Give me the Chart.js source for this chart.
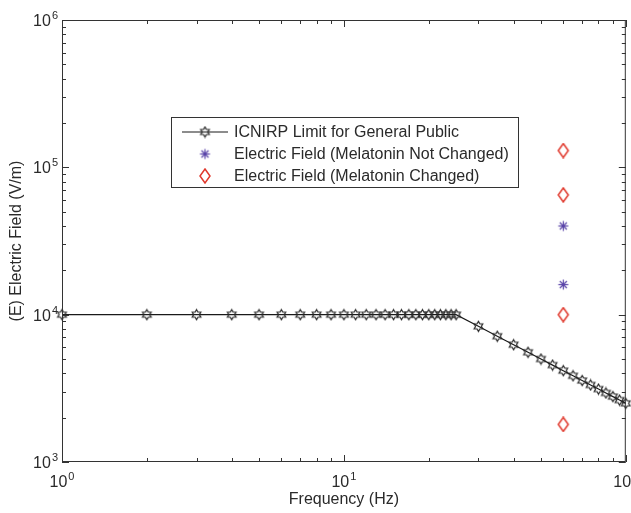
<!DOCTYPE html>
<html>
<head>
<meta charset="utf-8">
<script src="https://cdn.jsdelivr.net/npm/chart.js@4.4.0/dist/chart.umd.min.js"></script>
<style>
  html, body { margin: 0; padding: 0; background: #fff; }
  #wrap { width: 631px; height: 513px; }
</style>
</head>
<body>
<div id="wrap"><canvas id="fieldChart" width="631" height="513"></canvas></div>
<script>
// ICNIRP limit curve (frequency in Hz, field in V/m)
const limitFreq = [1, 2, 3, 4, 5, 6, 7, 8, 9, 10, 11, 12, 13, 14, 15, 16, 17, 18, 19, 20, 21, 22, 23, 24, 25,
    30, 35, 40, 45, 50, 55, 60, 65, 70, 75, 80, 85, 90, 95, 100];
const limitField = [10000, 10000, 10000, 10000, 10000, 10000, 10000, 10000, 10000, 10000, 10000, 10000, 10000,
    10000, 10000, 10000, 10000, 10000, 10000, 10000, 10000, 10000, 10000, 10000, 10000,
    8333, 7143, 6250, 5556, 5000, 4545, 4167, 3846, 3571, 3333, 3125, 2941, 2778, 2632, 2500];

// experiments at 60 Hz
const notChangedFreq = [60, 60];
const notChangedField = [40000, 16000];
const changedFreq = [60, 60, 60, 60];
const changedField = [130000, 65000, 10000, 1800];

const seriesLabels = [
    'ICNIRP Limit for General Public',
    'Electric Field (Melatonin Not Changed)',
    'Electric Field (Melatonin Changed)'
];

const xMajorTicks = [1, 10, 100];
const xMajorExp = ['0', '1', '2'];
const yMajorTicks = [1000, 10000, 100000, 1000000];
const yMajorExp = ['3', '4', '5', '6'];

const FONT = '"Liberation Sans", Arial, Helvetica, sans-serif';
const INK = '#2a2a2a';

function toPoints(xs, ys) {
    return xs.map((x, i) => ({ x: x, y: ys[i] }));
}

// marker images, MATLAB-like
function makeMarker(kind) {
    const c = document.createElement('canvas');
    const size = kind === 'diamond' ? 16 : 13;
    c.width = size;
    c.height = size;
    const g = c.getContext('2d');
    const cx = size / 2, cy = size / 2;
    g.lineWidth = 1.2;
    if (kind === 'hexagram') {
        g.strokeStyle = '#262626';
        const r = 5;
        g.beginPath();
        for (let k = 0; k < 12; k++) {
            const a = -Math.PI / 2 + k * Math.PI / 6;
            const rr = k % 2 === 0 ? r : r * 0.58;
            const px = cx + rr * Math.cos(a), py = cy + rr * Math.sin(a);
            if (k === 0) g.moveTo(px, py); else g.lineTo(px, py);
        }
        g.closePath();
        g.stroke();
    } else if (kind === 'asterisk') {
        g.strokeStyle = '#5a45a8';
        const r = 5;
        for (let k = 0; k < 4; k++) {
            const a = k * Math.PI / 4;
            g.beginPath();
            g.moveTo(cx - r * Math.cos(a), cy - r * Math.sin(a));
            g.lineTo(cx + r * Math.cos(a), cy + r * Math.sin(a));
            g.stroke();
        }
    } else {
        g.strokeStyle = '#e0382c';
        g.lineWidth = 1.5;
        g.beginPath();
        g.moveTo(cx, cy - 7);
        g.lineTo(cx + 5, cy);
        g.lineTo(cx, cy + 7);
        g.lineTo(cx - 5, cy);
        g.closePath();
        g.stroke();
    }
    return c;
}

const hexMarker = makeMarker('hexagram');
const starMarker = makeMarker('asterisk');
const diamondMarker = makeMarker('diamond');

function drawPower(ctx, exp, x, y, align) {
    ctx.font = '16px ' + FONT;
    const wBase = ctx.measureText('10').width;
    ctx.font = '11px ' + FONT;
    const wExp = ctx.measureText(exp).width;
    const total = wBase + wExp + 1;
    let start = x;
    if (align === 'center') start = x - total / 2;
    if (align === 'right') start = x - total;
    ctx.fillStyle = INK;
    ctx.textAlign = 'left';
    ctx.textBaseline = 'alphabetic';
    ctx.font = '16px ' + FONT;
    ctx.fillText('10', start, y);
    ctx.font = '11px ' + FONT;
    ctx.fillText(exp, start + wBase + 1, y - 7);
}

const framePlugin = {
    id: 'frame',
    afterDraw(chart) {
        const { ctx, chartArea: a, scales } = chart;
        const xs = scales.x, ys = scales.y;
        ctx.save();
        ctx.strokeStyle = '#333';
        ctx.lineWidth = 1;
        ctx.strokeRect(a.left + 0.5, a.top + 0.5, a.right - a.left - 1, a.bottom - a.top - 1);

        ctx.beginPath();
        // x ticks, bottom and top, pointing inward
        for (let d = 0; d < xMajorTicks.length; d++) {
            for (let m = 1; m <= 9; m++) {
                const v = xMajorTicks[d] * m;
                if (v > xMajorTicks[xMajorTicks.length - 1]) break;
                const px = Math.round(xs.getPixelForValue(v)) + 0.5;
                const len = m === 1 ? 7 : 4;
                ctx.moveTo(px, a.bottom);
                ctx.lineTo(px, a.bottom - len);
                ctx.moveTo(px, a.top);
                ctx.lineTo(px, a.top + len);
            }
        }
        // y ticks, left and right
        for (let d = 0; d < yMajorTicks.length; d++) {
            for (let m = 1; m <= 9; m++) {
                const v = yMajorTicks[d] * m;
                if (v > yMajorTicks[yMajorTicks.length - 1]) break;
                const py = Math.round(ys.getPixelForValue(v)) + 0.5;
                const len = m === 1 ? 7 : 4;
                ctx.moveTo(a.left, py);
                ctx.lineTo(a.left + len, py);
                ctx.moveTo(a.right, py);
                ctx.lineTo(a.right - len, py);
            }
        }
        ctx.stroke();

        // tick labels with superscripts
        xMajorTicks.forEach((v, i) => {
            drawPower(ctx, xMajorExp[i], xs.getPixelForValue(v), a.bottom + 25, 'center');
        });
        yMajorTicks.forEach((v, i) => {
            drawPower(ctx, yMajorExp[i], a.left - 4, ys.getPixelForValue(v) + 6, 'right');
        });

        // legend box inside the plot
        const lx = a.left + 109, ly = a.top + 97, lw = 347, lh = 70;
        ctx.fillStyle = '#fff';
        ctx.fillRect(lx, ly, lw, lh);
        ctx.strokeStyle = '#333';
        ctx.strokeRect(lx + 0.5, ly + 0.5, lw, lh);
        const markers = [hexMarker, starMarker, diamondMarker];
        ctx.font = '16px ' + FONT;
        ctx.textBaseline = 'middle';
        ctx.textAlign = 'left';
        seriesLabels.forEach((label, i) => {
            const rowY = ly + 15 + i * 22;
            if (i === 0) {
                ctx.beginPath();
                ctx.strokeStyle = '#1a1a1a';
                ctx.lineWidth = 1.2;
                ctx.moveTo(lx + 11, rowY);
                ctx.lineTo(lx + 57, rowY);
                ctx.stroke();
            }
            const mk = markers[i];
            ctx.drawImage(mk, lx + 34 - mk.width / 2, rowY - mk.height / 2);
            ctx.fillStyle = INK;
            ctx.fillText(label, lx + 63, rowY + 1);
        });
        ctx.restore();
    }
};

const ctx = document.getElementById('fieldChart').getContext('2d');

new Chart(ctx, {
    type: 'scatter',
    data: {
        datasets: [
            {
                label: seriesLabels[0],
                data: toPoints(limitFreq, limitField),
                showLine: true,
                borderColor: '#1a1a1a',
                borderWidth: 1.2,
                pointStyle: hexMarker,
                clip: 8
            },
            {
                label: seriesLabels[1],
                data: toPoints(notChangedFreq, notChangedField),
                pointStyle: starMarker
            },
            {
                label: seriesLabels[2],
                data: toPoints(changedFreq, changedField),
                pointStyle: diamondMarker
            }
        ]
    },
    options: {
        responsive: false,
        animation: false,
        devicePixelRatio: 1,
        layout: { padding: { top: 20, right: 5, left: 0, bottom: 0 } },
        plugins: {
            legend: { display: false },
            tooltip: { enabled: false }
        },
        scales: {
            x: {
                type: 'logarithmic',
                min: 1,
                max: 100,
                grid: { display: false },
                border: { display: false },
                ticks: { display: false },
                title: {
                    display: true,
                    text: 'Frequency (Hz)',
                    color: INK,
                    font: { family: FONT, size: 16 },
                    padding: { top: 0, bottom: 4 }
                },
                afterFit(scale) {
                    scale.height = 51;
                    scale.paddingLeft = 0;
                    scale.paddingRight = 0;
                }
            },
            y: {
                type: 'logarithmic',
                min: 1000,
                max: 1000000,
                grid: { display: false },
                border: { display: false },
                ticks: { display: false },
                title: {
                    display: true,
                    text: '(E) Electric Field (V/m)',
                    color: INK,
                    font: { family: FONT, size: 16 },
                    padding: { top: 7, bottom: 0 }
                },
                afterFit(scale) {
                    scale.width = 62;
                    scale.paddingTop = 0;
                    scale.paddingBottom = 0;
                }
            }
        }
    },
    plugins: [framePlugin]
});
</script>
</body>
</html>
